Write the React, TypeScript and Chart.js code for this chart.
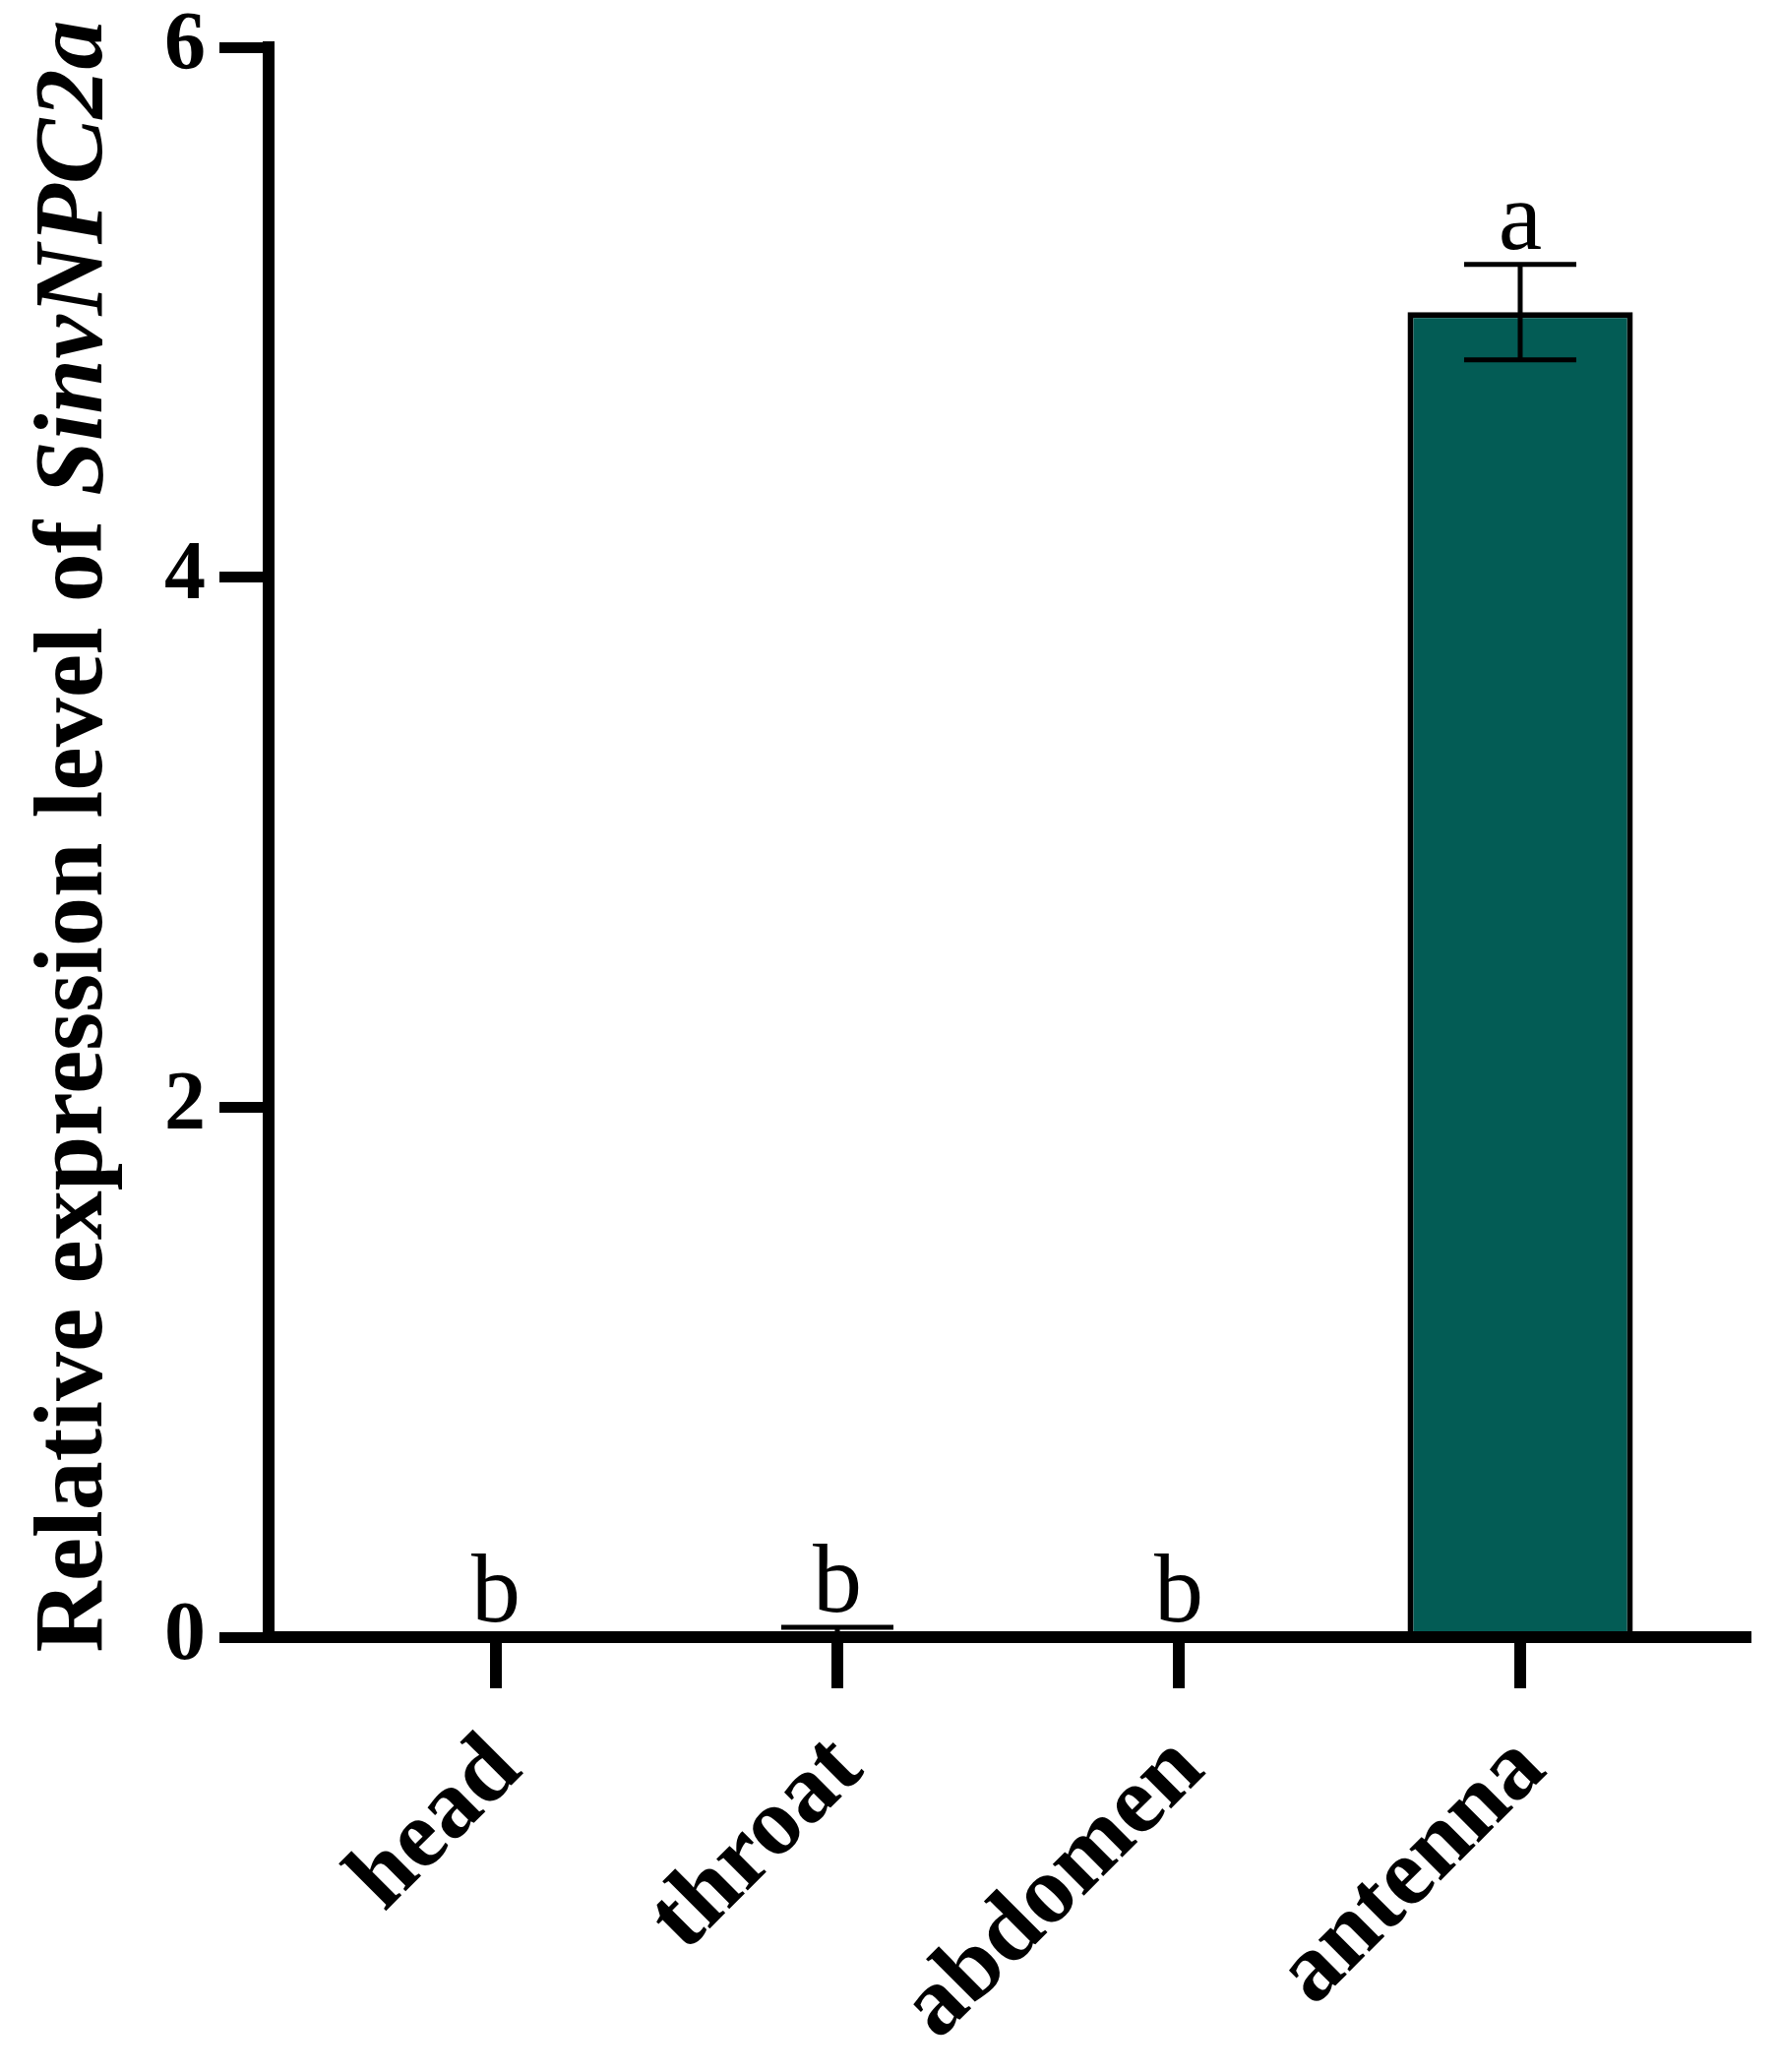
import React, { useEffect, useRef } from "react";
import { Chart, registerables } from "chart.js";

Chart.register(...registerables);

// ---- data ----
const categories = ["head", "throat", "abdomen", "antenna"];
const means = [0.001, 0.02, 0.001, 5.0];
const errors = [0, 0.017, 0, 0.18];
const groupLetters = ["b", "b", "b", "a"];
const yTickValues = [0, 2, 4, 6];
const yTitleMain = "Relative expression level of ";
const yTitleGene = "SinvNPC2a";

const SERIF = '"Liberation Serif", "Times New Roman", serif';
const BAR_COLOR = "#035C55";

const errorBarPlugin = {
  id: "errorBarsAndLetters",
  afterDatasetsDraw(chart: any) {
    const ctx = chart.ctx;
    const xs = chart.scales.x;
    const ys = chart.scales.y;
    ctx.save();
    ctx.strokeStyle = "#000";
    ctx.lineWidth = 5;
    ctx.lineCap = "butt";
    means.forEach((m, i) => {
      const sd = errors[i];
      const x = xs.getPixelForValue(i);
      if (sd > 0) {
        const yT = ys.getPixelForValue(m + sd);
        const yB = ys.getPixelForValue(m - sd);
        ctx.beginPath();
        ctx.moveTo(x, yT);
        ctx.lineTo(x, yB);
        ctx.moveTo(x - 57, yT);
        ctx.lineTo(x + 57, yT);
        ctx.moveTo(x - 57, yB);
        ctx.lineTo(x + 57, yB);
        ctx.stroke();
      }
      ctx.fillStyle = "#000";
      ctx.font = `100px ${SERIF}`;
      ctx.textAlign = "center";
      ctx.textBaseline = "alphabetic";
      ctx.fillText(groupLetters[i], x, ys.getPixelForValue(m + sd) - 16);
    });
    ctx.restore();
  },
};

const titlePlugin = {
  id: "richYTitle",
  afterDraw(chart: any) {
    const ctx = chart.ctx;
    const area = chart.chartArea;
    ctx.save();
    ctx.fillStyle = "#000";
    ctx.textBaseline = "alphabetic";
    ctx.textAlign = "left";
    const fMain = `bold 100px ${SERIF}`;
    const fGene = `italic bold 100px ${SERIF}`;
    ctx.font = fMain;
    const w1 = ctx.measureText(yTitleMain).width;
    ctx.font = fGene;
    const w2 = ctx.measureText(yTitleGene).width;
    const total = w1 + w2;
    const cy = (area.top + area.bottom) / 2 - 6;
    ctx.translate(103, cy);
    ctx.rotate(-Math.PI / 2);
    ctx.font = fMain;
    ctx.fillText(yTitleMain, -total / 2, 0);
    ctx.font = fGene;
    ctx.fillText(yTitleGene, -total / 2 + w1, 0);
    ctx.restore();
  },
};

export default function App() {
  const canvasRef = useRef<HTMLCanvasElement | null>(null);

  useEffect(() => {
    const canvas = canvasRef.current;
    if (!canvas) return;
    const chart = new Chart(canvas, {
      type: "bar",
      data: {
        datasets: [
          {
            data: means.map((v, i) => ({ x: i, y: v })),
            backgroundColor: BAR_COLOR,
            borderColor: "#000",
            borderWidth: 6,
            borderSkipped: "start",
            barPercentage: 0.66,
            categoryPercentage: 1,
          },
        ],
      },
      options: {
        animation: false,
        responsive: false,
        devicePixelRatio: 1,
        layout: { padding: { top: 48, right: 34, bottom: 0, left: 0 } },
        plugins: {
          legend: { display: false },
          tooltip: { enabled: false },
          title: { display: false },
        },
        scales: {
          x: {
            type: "linear",
            position: "bottom",
            min: -0.6657,
            max: 3.66,
            offset: false,
            grid: {
              offset: false,
              drawOnChartArea: false,
              drawTicks: true,
              tickLength: 52,
              tickWidth: 12,
              tickColor: "#000",
              lineWidth: 12,
              color: "#000",
              z: 1,
            },
            border: { display: true, color: "#000", width: 12, z: 2 },
            afterBuildTicks: (scale: any) => {
              scale.ticks = categories.map((_, i) => ({ value: i }));
            },
            afterFit: (scale: any) => {
              scale.height = 442;
              scale.paddingLeft = 0;
              scale.paddingRight = 0;
              scale.paddingTop = 0;
              scale.paddingBottom = 0;
            },
            ticks: {
              autoSkip: false,
              maxRotation: 45,
              minRotation: 45,
              padding: 26,
              labelOffset: 11,
              color: "#000",
              font: { family: SERIF, size: 98, weight: "bold" },
              callback: (value: any) => categories[Math.round(Number(value))] ?? "",
            },
          },
          y: {
            type: "linear",
            position: "left",
            min: 0,
            max: 6,
            grid: {
              drawOnChartArea: false,
              drawTicks: true,
              tickLength: 50,
              tickWidth: 11,
              tickColor: "#000",
              lineWidth: 11,
              color: "#000",
              z: 1,
            },
            border: { display: true, color: "#000", width: 12, z: 2 },
            afterBuildTicks: (scale: any) => {
              scale.ticks = yTickValues.map((v) => ({ value: v }));
            },
            afterFit: (scale: any) => {
              scale.width = 273;
              scale.paddingLeft = 0;
              scale.paddingRight = 0;
              scale.paddingTop = 0;
              scale.paddingBottom = 0;
            },
            title: { display: false },
            ticks: {
              padding: 14,
              color: "#000",
              font: { family: SERIF, size: 84, weight: "bold", lineHeight: 1 },
              callback: (value: any) => String(value),
            },
          },
        },
      },
      plugins: [errorBarPlugin, titlePlugin],
    } as any);
    return () => chart.destroy();
  }, []);

  return (
    <div style={{ position: "absolute", left: 0, top: 0, width: 1808, height: 2106, background: "#fff" }}>
      <canvas ref={canvasRef} width={1808} height={2106} style={{ display: "block", width: 1808, height: 2106 }} />
    </div>
  );
}
